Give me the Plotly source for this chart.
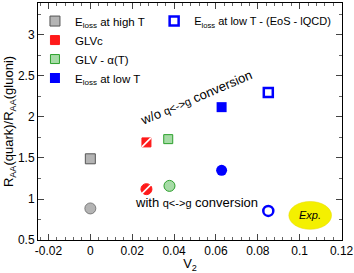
import plotly.graph_objects as go

# ---- data ----
v2_high_T = [0.0]
sq_high_T = [1.49]
ci_high_T = [0.885]

v2_glvc_sq = [0.0268]
sq_glvc = [1.69]
v2_glvc_ci = [0.0268]
ci_glvc = [1.12]

v2_glva_sq = [0.0372]
sq_glva = [1.73]
v2_glva_ci = [0.0378]
ci_glva = [1.16]

v2_low_T = [0.0627]
sq_low_T = [2.12]
ci_low_T = [1.35]

v2_eos = [0.0850]
sq_eos = [2.30]
ci_eos = [0.855]

exp_center = [0.105, 0.80]
exp_halfwidth = [0.0102, 0.17]

x_tickvals = [-0.02, 0, 0.02, 0.04, 0.06, 0.08, 0.1, 0.12]
x_ticktext = ["-0.02", "0", "0.02", "0.04", "0.06", "0.08", "0.1", "0.12"]
y_tickvals = [0.5, 1, 1.5, 2, 2.5, 3]
y_ticktext = ["0.5", "1", "1.5", "2", "2.5", "3"]

FONT = "Liberation Sans, Arial, sans-serif"
RED = "#ff1a1a"
GREEN = "#2ca02c"
BLUE = "#0000ff"

fig = go.Figure()

# gray (E_loss at high T)
fig.add_trace(go.Scatter(x=v2_high_T, y=sq_high_T, mode="markers", name="E<sub>loss</sub> at high T",
                         marker=dict(symbol="square", size=10, color="#b4b4b4",
                                     line=dict(color="#555555", width=1)), legend="legend"))
fig.add_trace(go.Scatter(x=v2_high_T, y=ci_high_T, mode="markers", showlegend=False,
                         marker=dict(symbol="circle", size=11, color="#b4b4b4",
                                     line=dict(color="#666666", width=0.8))))
# red GLVc (hatched)
fig.add_trace(go.Scatter(x=v2_glvc_sq, y=sq_glvc, mode="markers", name="GLVc",
                         marker=dict(symbol="square", size=9, color=RED,
                                     line=dict(color=RED, width=1)), legend="legend"))
fig.add_trace(go.Scatter(x=v2_glvc_ci, y=ci_glvc, mode="markers", showlegend=False,
                         marker=dict(symbol="circle", size=11, color=RED,
                                     line=dict(color=RED, width=1))))
fig.add_trace(go.Scatter(x=v2_glvc_sq + v2_glvc_ci, y=sq_glvc + ci_glvc, mode="markers", showlegend=False,
                         hoverinfo="skip",
                         marker=dict(symbol="line-ne", size=9, color="white",
                                     line=dict(color="white", width=1.6))))
# green GLV - alpha(T) (checkered)
fig.add_trace(go.Scatter(x=v2_glva_sq, y=sq_glva, mode="markers", name="GLV - α(T)",
                         marker=dict(symbol="square", size=9, color="#a6dba6",
                                     line=dict(color=GREEN, width=1)), legend="legend"))
fig.add_trace(go.Scatter(x=v2_glva_ci, y=ci_glva, mode="markers", showlegend=False,
                         marker=dict(symbol="circle", size=11, color="#a6dba6",
                                     line=dict(color=GREEN, width=1))))
# blue E_loss at low T
fig.add_trace(go.Scatter(x=v2_low_T, y=sq_low_T, mode="markers", name="E<sub>loss</sub> at low T",
                         marker=dict(symbol="square", size=10, color=BLUE,
                                     line=dict(color=BLUE, width=0)), legend="legend"))
fig.add_trace(go.Scatter(x=v2_low_T, y=ci_low_T, mode="markers", showlegend=False,
                         marker=dict(symbol="circle", size=11, color=BLUE,
                                     line=dict(color=BLUE, width=0))))
# blue open (EoS - lQCD)
fig.add_trace(go.Scatter(x=v2_eos, y=sq_eos, mode="markers", name="E<sub>loss</sub> at low T - (EoS - lQCD)",
                         marker=dict(symbol="square-open", size=9, color=BLUE,
                                     line=dict(color=BLUE, width=2.5)), legend="legend2"))
fig.add_trace(go.Scatter(x=v2_eos, y=ci_eos, mode="markers", showlegend=False,
                         marker=dict(symbol="circle-open", size=10, color=BLUE,
                                     line=dict(color=BLUE, width=2.5))))

# experimental ellipse
fig.add_shape(type="circle", xref="x", yref="y",
              x0=exp_center[0] - exp_halfwidth[0], x1=exp_center[0] + exp_halfwidth[0],
              y0=exp_center[1] - exp_halfwidth[1], y1=exp_center[1] + exp_halfwidth[1],
              fillcolor="#f4f000", line=dict(color="#e6d800", width=0.5), layer="below")
fig.add_annotation(x=exp_center[0], y=exp_center[1], text="<i>Exp.</i>", showarrow=False,
                   font=dict(family=FONT, size=11, color="black"))

# conversion labels
fig.add_annotation(x=0.0505, y=2.24, textangle=-23, showarrow=False,
                   text="w/o <span style='font-size:11px'>q<->g</span> conversion",
                   font=dict(family=FONT, size=13, color="black"))
fig.add_annotation(x=0.0508, y=0.955, showarrow=False,
                   text="with <span style='font-size:11px'>q<->g</span> conversion",
                   font=dict(family=FONT, size=13, color="black"))

axis_common = dict(showline=True, linecolor="black", linewidth=1, mirror="allticks",
                   ticks="inside", ticklen=6, tickwidth=1, tickcolor="#444444",
                   showgrid=False, zeroline=False, automargin=False,
                   tickfont=dict(family=FONT, size=12, color="black"))

fig.update_xaxes(range=[-0.025, 0.1202], tickvals=x_tickvals, ticktext=x_ticktext,
                 minor=dict(ticks="inside", dtick=0.004, tick0=0, ticklen=3, tickcolor="#666666", showgrid=False),
                 title=dict(text="V<sub>2</sub>", font=dict(family=FONT, size=13, color="black"), standoff=0),
                 **axis_common)
fig.update_yaxes(range=[0.5, 3.39], tickvals=y_tickvals, ticktext=y_ticktext,
                 minor=dict(ticks="inside", dtick=0.25, tick0=0, ticklen=3, tickcolor="#666666", showgrid=False),
                 title=dict(text="R<sub>AA</sub>(quark)/R<sub>AA</sub>(gluoni)",
                            font=dict(family=FONT, size=13, color="black"), standoff=1),
                 **axis_common)

fig.update_layout(
    width=354, height=273,
    margin=dict(l=38, r=12, t=3, b=33, autoexpand=False),
    paper_bgcolor="white", plot_bgcolor="white",
    font=dict(family=FONT, size=12, color="black"),
    legend=dict(x=-0.01, y=0.985, xanchor="left", yanchor="top", bgcolor="rgba(0,0,0,0)",
                font=dict(family=FONT, size=11.5), tracegroupgap=0, itemsizing="trace"),
    legend2=dict(x=0.382, y=0.985, xanchor="left", yanchor="top", bgcolor="rgba(0,0,0,0)",
                 font=dict(family=FONT, size=11), itemsizing="trace"),
)

fig.write_html("out.html", config={"displayModeBar": False},
               post_script="document.body.style.margin='0';document.body.style.padding='0';")
